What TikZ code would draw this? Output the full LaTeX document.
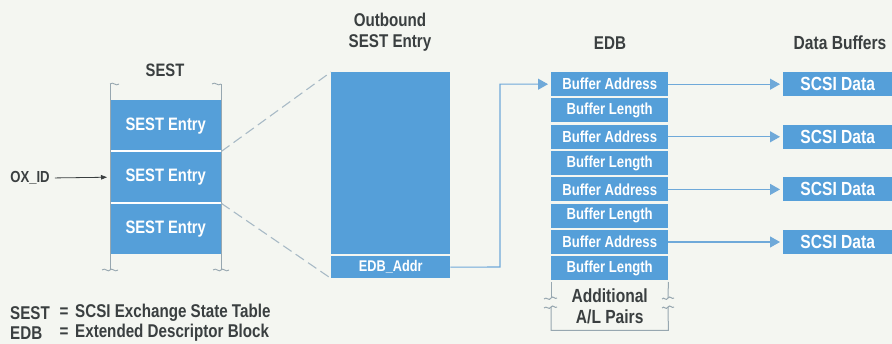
\documentclass[tikz,border=0pt]{standalone}
\usepackage{fontspec}
\setmainfont{Liberation Sans}[FakeStretch=0.82]
\usetikzlibrary{arrows.meta,calc}
\definecolor{blu}{HTML}{559FD9}
\definecolor{bg}{HTML}{F4F6F1}
\definecolor{ink}{HTML}{3A3F40}
\definecolor{conncol}{HTML}{6FA9D9}
\definecolor{dashcol}{HTML}{A8BAC6}
\definecolor{brk}{HTML}{97A7B0}
\newcommand{\fs}[1]{\bfseries\fontsize{#1}{#1}\selectfont}
\begin{document}
\begin{tikzpicture}[x=1pt,y=-1pt,
  bx/.style={fill=blu,text=white,inner sep=0pt,anchor=north west},
  ttl/.style={text=ink,inner sep=0pt,align=center,font=\fs{18.5}},
  conn/.style={conncol,line width=1.1pt,-{Triangle[length=10pt,width=11pt]},shorten >=3pt},
  dashln/.style={dashcol,line width=1.1pt,dash pattern=on 10pt off 5pt},
  brkln/.style={brk,line width=0.9pt},
  sep/.style={white,line width=2pt},
  lg/.style={text=ink,inner sep=0pt,font=\fs{18.5}}]
\fill[bg] (0,0) rectangle (892,344);
\useasboundingbox (0,0) rectangle (892,344);

% ---------- SEST ----------
\node[ttl,font=\fs{18}] (tsest) at (165,70) {SEST};
\node[bx,minimum width=111pt,minimum height=51pt,font=\fs{18}] (s1) at (110,100) {SEST Entry};
\node[bx,minimum width=111pt,minimum height=52pt,font=\fs{18}] (s2) at (110,151) {SEST Entry};
\node[bx,minimum width=111pt,minimum height=51pt,font=\fs{18}] (s3) at (110,203) {SEST Entry};
\draw[sep] (s1.south west) -- (s1.south east);
\draw[sep] (s2.south west) -- (s2.south east);
% brackets
\draw[brkln] (110,84) -- (110,270);
\draw[brkln] (221,84) -- (221,270);
\draw[brkln] (110,84) .. controls (113,81) and (116,87) .. (119,84);
\draw[brkln] (212,84) .. controls (215,81) and (218,87) .. (221,84);
\draw[brkln] (102,270) .. controls (105,267) and (108,273) .. (110,270) .. controls (112,267) and (115,273) .. (118,270);
\draw[brkln] (213,270) .. controls (216,267) and (219,273) .. (221,270) .. controls (223,267) and (226,273) .. (229,270);

% OX_ID
\node[text=ink,inner sep=0pt,font=\fs{16}] (ox) at (30,178) {OX\_ID};
\draw[ink,line width=0.8pt,-{Triangle[length=6pt,width=4.5pt]},shorten <=5pt,shorten >=3pt] (ox.east) -- (s2.west);

% ---------- Outbound SEST Entry ----------
\node[ttl] (tob) at (390,32) {Outbound\\[2pt]SEST Entry};
\node[bx,minimum width=119pt,minimum height=182pt] (ob) at (331,72) {};
\node[bx,minimum width=119pt,minimum height=22pt,font=\fs{15.5}] (ea) at (331,256) {EDB\_Addr};
\draw[dashln] (s1.south east) -- (ob.north west);
\draw[dashln] (s2.south east) -- (ea.south west);

% ---------- EDB ----------
\node[ttl] (tedb) at (610,43) {EDB};
\foreach \i/\t in {1/Buffer Address,2/Buffer Length,3/Buffer Address,4/Buffer Length,5/Buffer Address,6/Buffer Length,7/Buffer Address,8/Buffer Length}
  \node[bx,minimum width=117pt,minimum height=24pt,font=\fs{16}] (e\i) at (551,{72+(\i-1)*26.3}) {\t};
\node[inner sep=0pt,anchor=north west,minimum width=117pt,minimum height=48pt,text=ink,align=center,font=\fs{19}] (add) at (551,282) {Additional\\[2pt]A/L Pairs};
\draw[brkln,line width=1pt] (add.north west) -- (551,298);
\draw[brkln,line width=1pt] (551,307) -- (add.south west) -- (add.south east) -- (668,307);
\draw[brkln,line width=1pt] (668,298) -- (add.north east);
\draw[brkln,line width=1pt] (544,299) .. controls (546.5,296) and (549,302) .. (551,298) .. controls (553,295) and (555,300) .. (557,298);
\draw[brkln,line width=1pt] (544,308) .. controls (546.5,305) and (549,311) .. (551,307) .. controls (553,304) and (555,309) .. (557,307);
\draw[brkln,line width=1pt] (662,299) .. controls (664,296) and (666,302) .. (668,298) .. controls (670,295) and (672,300) .. (674,298);
\draw[brkln,line width=1pt] (662,308) .. controls (664,305) and (666,311) .. (668,307) .. controls (670,304) and (672,309) .. (674,307);

\coordinate (bend) at (500,267);
\draw[conn] (ea.east) -- (bend) |- (e1.west);

% ---------- Data Buffers ----------
\node[ttl,font=\fs{19}] (tdb) at (840,43) {Data Buffers};
\foreach \k/\r in {1/1,2/3,3/5,4/7}
  \node[bx,minimum width=109pt,minimum height=24pt,font=\fs{19}] (d\k) at (783,{72+(\r-1)*26.3}) {SCSI Data};
\foreach \k/\r in {1/1,2/3,3/5,4/7}
  \draw[conn] (e\r.east) -- (d\k.west);

% ---------- Legend ----------
\node[lg,anchor=west] (l1a) at (10,313) {SEST};
\node[lg] (l1b) at (64,313) {=};
\node[lg,anchor=west] (l1c) at (75,313) {SCSI Exchange State Table};
\node[lg,anchor=west] (l2a) at (10,333) {EDB};
\node[lg] (l2b) at (64,333) {=};
\node[lg,anchor=west] (l2c) at (75,333) {Extended Descriptor Block};
\end{tikzpicture}
\end{document}
